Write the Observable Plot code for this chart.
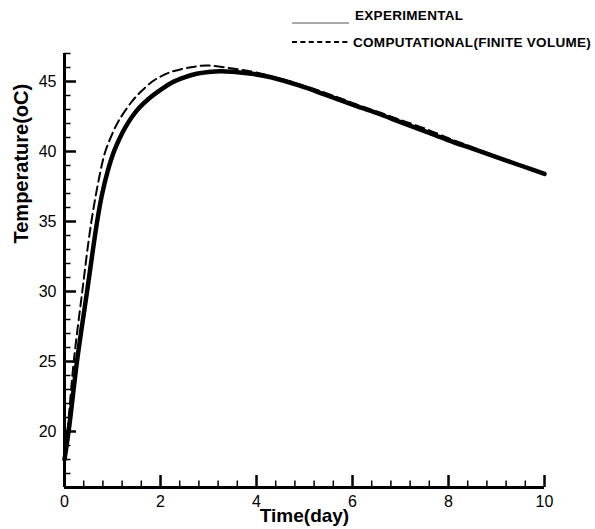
<!DOCTYPE html>
<html>
<head>
<meta charset="utf-8">
<script src="https://cdn.jsdelivr.net/npm/d3@7"></script>
<script src="https://cdn.jsdelivr.net/npm/@observablehq/plot@0.6"></script>
<style>
  html, body { margin: 0; padding: 0; background: #fff; }
  #wrap { position: relative; width: 595px; height: 529px; font-family: "Liberation Sans", Arial, Helvetica, sans-serif; }
  #legend { position: absolute; left: 0; top: 0; }
</style>
</head>
<body>
<div id="wrap"></div>
<script>
// ---- data ----
const seriesNames = ["EXPERIMENTAL", "COMPUTATIONAL(FINITE VOLUME)"];
const xLabel = "Time(day)";
const yLabel = "Temperature(oC)";

const expTime = [0, 0.1, 0.26, 0.47, 0.68, 0.78, 0.9, 1.03, 1.15, 1.27, 1.5, 1.75, 2.0, 2.25, 2.5, 2.75, 3.0, 3.25, 3.5, 3.9, 4.3, 4.9, 5.4, 6.0, 6.5, 7.0, 7.5, 8.0, 8.5, 9.0, 9.5, 10];
const expTemp = [18.0, 20.4, 25.0, 30.0, 35.0, 36.9, 38.6, 40.0, 40.95, 41.74, 42.9, 43.75, 44.4, 44.95, 45.3, 45.55, 45.68, 45.74, 45.7, 45.55, 45.3, 44.7, 44.1, 43.35, 42.75, 42.1, 41.45, 40.8, 40.2, 39.6, 39.0, 38.4];

const compTime = [0, 0.07, 0.19, 0.37, 0.56, 0.75, 0.85, 1.0, 1.13, 1.41, 1.6, 1.83, 2.0, 2.21, 2.6, 2.97, 3.46, 3.91, 4.33, 4.85, 5.26, 5.71, 6.17, 6.6, 7.0, 7.5, 8.0, 8.5, 9.0, 9.5, 10];
const compTemp = [18.0, 20.3, 24.9, 30.0, 35.0, 38.6, 40.0, 41.3, 42.2, 43.6, 44.3, 45.0, 45.35, 45.67, 46.0, 46.14, 45.95, 45.7, 45.35, 44.85, 44.4, 43.85, 43.25, 42.75, 42.25, 41.65, 40.95, 40.3, 39.65, 39.02, 38.4];

const xDomain = [0, 10];
const yDomain = [16, 47];
const xMajorTicks = [0, 2, 4, 6, 8, 10];
const yMajorTicks = [20, 25, 30, 35, 40, 45];
const xMinorTicks = [0.4, 0.8, 1.2, 1.6, 2.4, 2.8, 3.2, 3.6, 4.4, 4.8, 5.2, 5.6, 6.4, 6.8, 7.2, 7.6, 8.4, 8.8, 9.2, 9.6];
const yMinorTicks = [17, 18, 19, 21, 22, 23, 24, 26, 27, 28, 29, 31, 32, 33, 34, 36, 37, 38, 39, 41, 42, 43, 44, 46, 47];

// ---- layout ----
const W = 595, H = 529, mT = 53, mB = 42, mL = 64, mR = 51;
const frameW = W - mL - mR, frameH = H - mT - mB;
const majorLen = 12, minorLen = 6.5;

const expData = expTime.map((t, i) => ({t, T: expTemp[i]}));
const compData = compTime.map((t, i) => ({t, T: compTemp[i]}));
const font = "'Liberation Sans', Arial, Helvetica, sans-serif";

const chart = Plot.plot({
  width: W,
  height: H,
  marginTop: mT,
  marginBottom: mB,
  marginLeft: mL,
  marginRight: mR,
  x: {domain: xDomain},
  y: {domain: yDomain},
  style: {fontFamily: font, fontSize: "16px", color: "black", background: "white"},
  marks: [
    Plot.line(compData, {x: "t", y: "T", curve: "catmull-rom", stroke: "black", strokeWidth: 2, strokeDasharray: "9,5"}),
    Plot.line(expData, {x: "t", y: "T", curve: "catmull-rom", stroke: "black", strokeWidth: 4.5}),
    // inward ticks (tick marks spanning the frame, inset to their length)
    Plot.tickY(yMajorTicks, {y: d => d, insetRight: frameW - majorLen, stroke: "black", strokeWidth: 2.5}),
    Plot.tickY(yMinorTicks, {y: d => d, insetRight: frameW - minorLen, stroke: "black", strokeWidth: 1.5}),
    Plot.tickX(xMajorTicks, {x: d => d, insetTop: frameH - majorLen, stroke: "black", strokeWidth: 2.5}),
    Plot.tickX(xMinorTicks, {x: d => d, insetTop: frameH - minorLen, stroke: "black", strokeWidth: 1.5}),
    // axis lines
    Plot.ruleX([xDomain[0]], {y1: yDomain[0], y2: yDomain[1], stroke: "black", strokeWidth: 3}),
    Plot.ruleY([yDomain[0]], {x1: xDomain[0], x2: xDomain[1], stroke: "black", strokeWidth: 3}),
    // tick labels
    Plot.axisX({ticks: xMajorTicks, tickSize: 0, tickPadding: 8, fontSize: 16, label: null}),
    Plot.axisY({ticks: yMajorTicks, tickSize: 0, tickPadding: 8, fontSize: 16, label: null}),
    // axis titles
    Plot.text([xLabel], {text: d => d, frameAnchor: "bottom", dy: 34, fontSize: 19, fontWeight: "bold", fill: "black", letterSpacing: 1}),
    Plot.text([yLabel], {text: d => d, frameAnchor: "left", rotate: -90, dx: -43, dy: -27, fontSize: 20, fontWeight: "bold", fill: "black", letterSpacing: 0.5})
  ]
});

const wrap = document.getElementById("wrap");
wrap.appendChild(chart);

// ---- legend (top right) ----
const ns = "http://www.w3.org/2000/svg";
const leg = document.createElementNS(ns, "svg");
leg.setAttribute("id", "legend");
leg.setAttribute("width", 595);
leg.setAttribute("height", 52);
const rows = [
  {y: 15, lineY: 23, stroke: "#555", width: 1, dash: null, tx: 355},
  {y: 42, lineY: 42, stroke: "black", width: 2, dash: "5,3.4", tx: 353}
];
rows.forEach((r, i) => {
  const ln = document.createElementNS(ns, "line");
  ln.setAttribute("x1", 292); ln.setAttribute("x2", 349);
  ln.setAttribute("y1", r.lineY); ln.setAttribute("y2", r.lineY);
  ln.setAttribute("stroke", r.stroke); ln.setAttribute("stroke-width", r.width);
  if (r.dash) ln.setAttribute("stroke-dasharray", r.dash);
  leg.appendChild(ln);
  const tx = document.createElementNS(ns, "text");
  tx.setAttribute("x", r.tx); tx.setAttribute("y", r.y);
  tx.setAttribute("dy", "0.35em");
  tx.setAttribute("font-family", font);
  tx.setAttribute("font-size", 13.5);
  tx.setAttribute("font-weight", "bold");
  tx.setAttribute("letter-spacing", "0.3");
  tx.textContent = seriesNames[i];
  leg.appendChild(tx);
});
wrap.appendChild(leg);
</script>
</body>
</html>
